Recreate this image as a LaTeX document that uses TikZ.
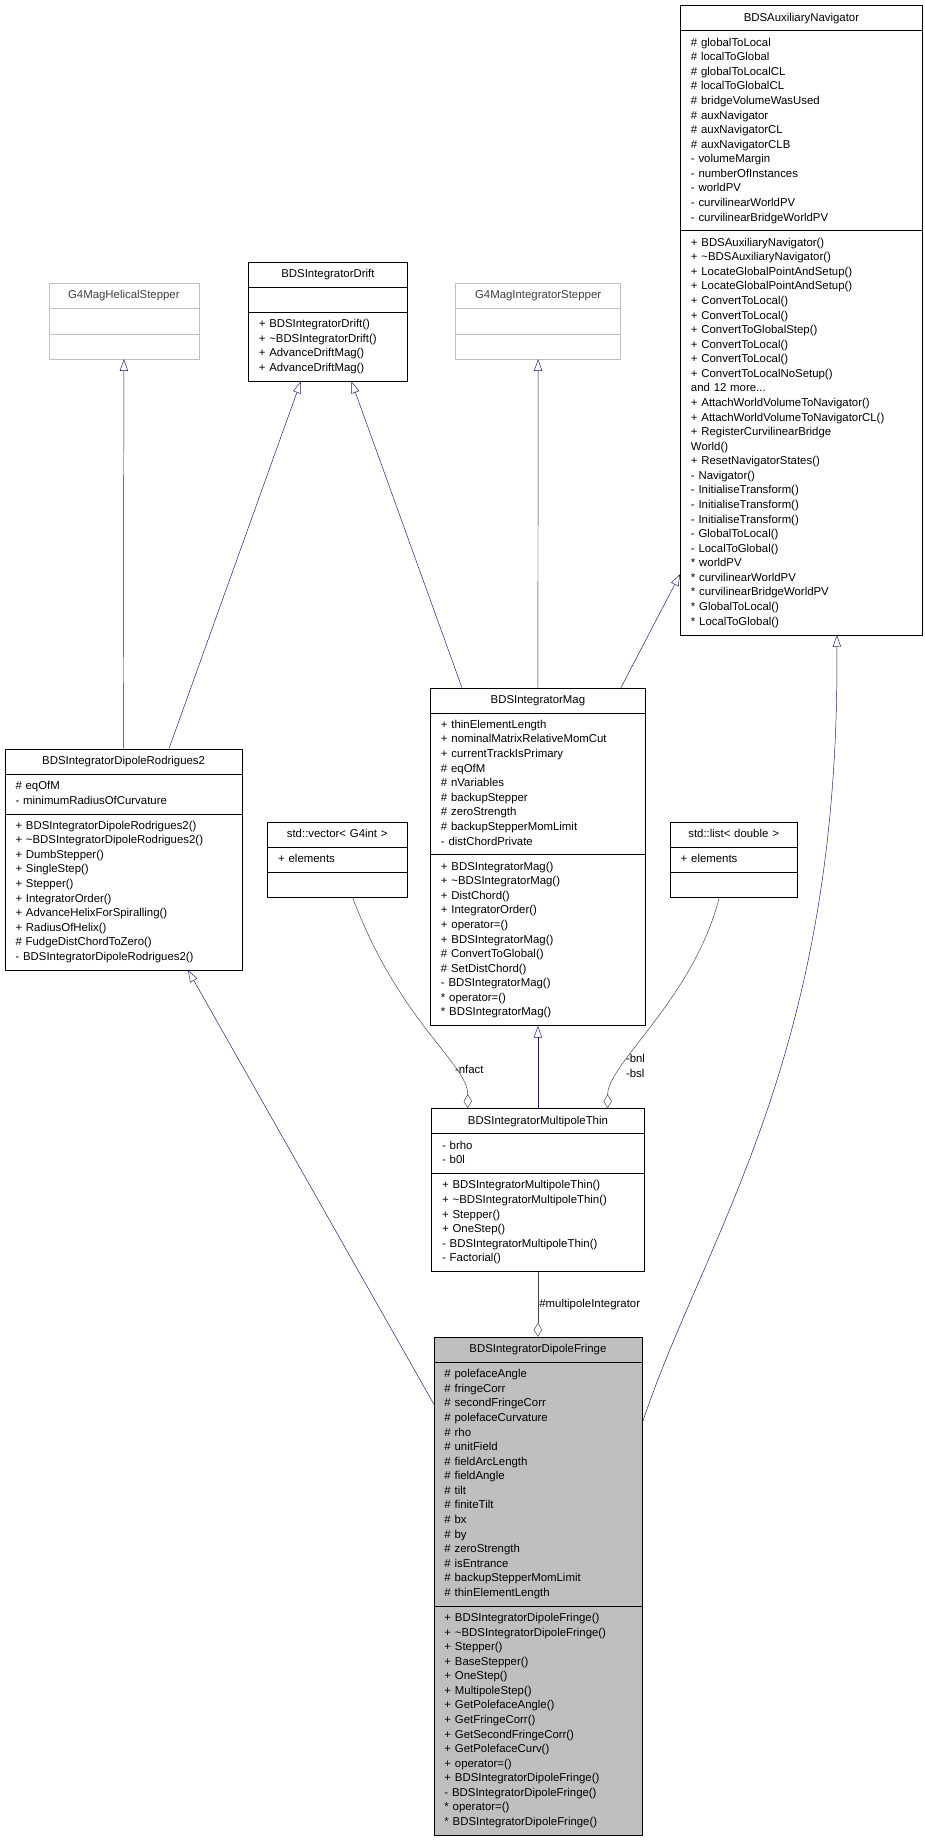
\documentclass[tikz,border=0pt]{standalone}
\usepackage{fontspec}
\setmainfont{Liberation Sans}
\usetikzlibrary{shapes.multipart,arrows.meta}
\definecolor{edgeblue}{HTML}{191970}
\definecolor{edgegray}{HTML}{404040}
\definecolor{boxgray}{HTML}{BFBFBF}
\tikzset{
  cls/.style={draw=black, rectangle split, rectangle split parts=3,
    anchor=north west, inner xsep=9pt, inner ysep=4.3pt,
    font=\fontsize{9.7}{12.4}\selectfont},
  clsgray/.style={cls, draw=boxgray, text=edgegray},
  inherit/.style={draw=edgeblue, -{Triangle[open, length=10pt, width=7pt]}},
  aggr/.style={draw=edgegray, -{Diamond[open, length=12pt, width=7pt]}},
  lbl/.style={font=\fontsize{9.7}{12.4}\selectfont, align=left, inner sep=1pt}
}
\newcommand{\hd}[1]{{\centering\strut #1\par}}
\begin{document}
\begin{tikzpicture}[x=1pt, y=-1pt]
\useasboundingbox (0,0) rectangle (787,1569);
	% classes
	\node[cls, text width=206pt-18pt] (nav) at (578.7,4.5) {\hd{BDSAuxiliaryNavigator}
	\nodepart{two}\strut\# globalToLocal\\\strut\# localToGlobal\\\strut\# globalToLocalCL\\\strut\# localToGlobalCL\\\strut\# bridgeVolumeWasUsed\\\strut\# auxNavigator\\\strut\# auxNavigatorCL\\\strut\# auxNavigatorCLB\\\strut- volumeMargin\\\strut- numberOfInstances\\\strut- worldPV\\\strut- curvilinearWorldPV\\\strut- curvilinearBridgeWorldPV
	\nodepart{three}\strut+ BDSAuxiliaryNavigator()\\\strut+ \textasciitilde BDSAuxiliaryNavigator()\\\strut+ LocateGlobalPointAndSetup()\\\strut+ LocateGlobalPointAndSetup()\\\strut+ ConvertToLocal()\\\strut+ ConvertToLocal()\\\strut+ ConvertToGlobalStep()\\\strut+ ConvertToLocal()\\\strut+ ConvertToLocal()\\\strut+ ConvertToLocalNoSetup()\\\strut and 12 more...\\\strut+ AttachWorldVolumeToNavigator()\\\strut+ AttachWorldVolumeToNavigatorCL()\\\strut+ RegisterCurvilinearBridge\\\strut World()\\\strut+ ResetNavigatorStates()\\\strut- Navigator()\\\strut- InitialiseTransform()\\\strut- InitialiseTransform()\\\strut- InitialiseTransform()\\\strut- GlobalToLocal()\\\strut- LocalToGlobal()\\\strut* worldPV\\\strut* curvilinearWorldPV\\\strut* curvilinearBridgeWorldPV\\\strut* GlobalToLocal()\\\strut* LocalToGlobal()};
	\node[cls, text width=135.6pt-18pt] (drift) at (211,222.7) {\hd{BDSIntegratorDrift}
	\nodepart{two}\strut
	\nodepart{three}\strut+ BDSIntegratorDrift()\\\strut+ \textasciitilde BDSIntegratorDrift()\\\strut+ AdvanceDriftMag()\\\strut+ AdvanceDriftMag()};
	\node[clsgray, text width=127.6pt-18pt] (helical) at (41.4,241) {\hd{G4MagHelicalStepper}
	\nodepart{two}\strut
	\nodepart{three}\strut};
	\node[clsgray, text width=140.3pt-18pt] (stepper) at (387.5,241) {\hd{G4MagIntegratorStepper}
	\nodepart{two}\strut
	\nodepart{three}\strut};
	\node[cls, text width=183pt-18pt] (mag) at (366,585) {\hd{BDSIntegratorMag}
	\nodepart{two}\strut+ thinElementLength\\\strut+ nominalMatrixRelativeMomCut\\\strut+ currentTrackIsPrimary\\\strut\# eqOfM\\\strut\# nVariables\\\strut\# backupStepper\\\strut\# zeroStrength\\\strut\# backupStepperMomLimit\\\strut- distChordPrivate
	\nodepart{three}\strut+ BDSIntegratorMag()\\\strut+ \textasciitilde BDSIntegratorMag()\\\strut+ DistChord()\\\strut+ IntegratorOrder()\\\strut+ operator=()\\\strut+ BDSIntegratorMag()\\\strut\# ConvertToGlobal()\\\strut\# SetDistChord()\\\strut- BDSIntegratorMag()\\\strut* operator=()\\\strut* BDSIntegratorMag()};
	\node[cls, text width=202pt-18pt] (rod) at (4,637) {\hd{BDSIntegratorDipoleRodrigues2}
	\nodepart{two}\strut\# eqOfM\\\strut- minimumRadiusOfCurvature
	\nodepart{three}\strut+ BDSIntegratorDipoleRodrigues2()\\\strut+ \textasciitilde BDSIntegratorDipoleRodrigues2()\\\strut+ DumbStepper()\\\strut+ SingleStep()\\\strut+ Stepper()\\\strut+ IntegratorOrder()\\\strut+ AdvanceHelixForSpiralling()\\\strut+ RadiusOfHelix()\\\strut\# FudgeDistChordToZero()\\\strut- BDSIntegratorDipoleRodrigues2()};
	\node[cls, text width=118.5pt-18pt] (vec) at (227.5,699) {\hd{std::vector< G4int >}
	\nodepart{two}\strut+ elements
	\nodepart{three}\strut};
	\node[cls, text width=108pt-18pt] (list) at (570,699) {\hd{std::list< double >}
	\nodepart{two}\strut+ elements
	\nodepart{three}\strut};
	\node[cls, text width=181pt-18pt] (multi) at (367,943) {\hd{BDSIntegratorMultipoleThin}
	\nodepart{two}\strut- brho\\\strut- b0l
	\nodepart{three}\strut+ BDSIntegratorMultipoleThin()\\\strut+ \textasciitilde BDSIntegratorMultipoleThin()\\\strut+ Stepper()\\\strut+ OneStep()\\\strut- BDSIntegratorMultipoleThin()\\\strut- Factorial()};
	\node[cls, fill=boxgray, text width=177pt-18pt] (fringe) at (369,1137.5) {\hd{BDSIntegratorDipoleFringe}
	\nodepart{two}\strut\# polefaceAngle\\\strut\# fringeCorr\\\strut\# secondFringeCorr\\\strut\# polefaceCurvature\\\strut\# rho\\\strut\# unitField\\\strut\# fieldArcLength\\\strut\# fieldAngle\\\strut\# tilt\\\strut\# finiteTilt\\\strut\# bx\\\strut\# by\\\strut\# zeroStrength\\\strut\# isEntrance\\\strut\# backupStepperMomLimit\\\strut\# thinElementLength
	\nodepart{three}\strut+ BDSIntegratorDipoleFringe()\\\strut+ \textasciitilde BDSIntegratorDipoleFringe()\\\strut+ Stepper()\\\strut+ BaseStepper()\\\strut+ OneStep()\\\strut+ MultipoleStep()\\\strut+ GetPolefaceAngle()\\\strut+ GetFringeCorr()\\\strut+ GetSecondFringeCorr()\\\strut+ GetPolefaceCurv()\\\strut+ operator=()\\\strut+ BDSIntegratorDipoleFringe()\\\strut- BDSIntegratorDipoleFringe()\\\strut* operator=()\\\strut* BDSIntegratorDipoleFringe()};
	% inheritance
	\draw[inherit] ([xshift=101pt]rod.north west) -- (helical.south);
	\draw[inherit] ([xshift=139.8pt]rod.north west) -- ([xshift=45pt]drift.south west);
	\draw[inherit] ([xshift=27pt]mag.north west) -- ([xshift=88pt]drift.south west);
	\draw[inherit] (mag.north) -- (stepper.south);
	\draw[inherit] ([xshift=-21pt]mag.north east) -- ([yshift=-484pt]nav.north west);
	\draw[inherit] (multi.north) -- (mag.south);
	\draw[inherit] ([yshift=-57pt]fringe.north west) -- ([xshift=156pt]rod.south west);
	\draw[inherit] ([yshift=-73.5pt]fringe.north east) .. controls (600,1050) and (715,900) .. ([xshift=133.3pt]nav.south west);
	% aggregation
	\draw[aggr] ([xshift=72.5pt]vec.south west) .. controls (340,870) and (398,905) .. node[lbl, pos=0.72, right] (nfact) {-nfact} ([xshift=31pt]multi.north west);
	\draw[aggr] ([xshift=42pt]list.south west) .. controls (590,850) and (517,905) .. node[lbl, pos=0.72, right] (bnl) {-bnl\\-bsl} ([xshift=150pt]multi.north west);
	\draw[aggr] (multi.south) -- node[lbl, right] (mpi) {\#multipoleIntegrator} (fringe.north);
\end{tikzpicture}
\end{document}
